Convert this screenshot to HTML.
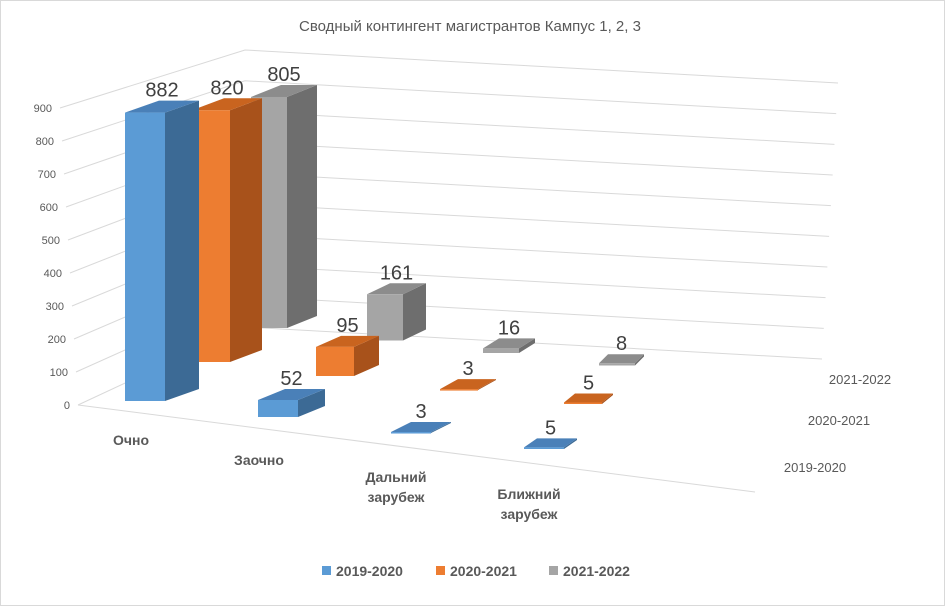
<!DOCTYPE html>
<html><head><meta charset="utf-8"><style>
body{margin:0;background:#fff;}
svg{display:block;font-family:"Liberation Sans",sans-serif;}
</style></head><body>
<svg id="chart" width="945" height="606" viewBox="0 0 945 606">
<rect x="0.5" y="0.5" width="944" height="605" fill="#fff" stroke="#d9d9d9"/>
<text x="470" y="31" text-anchor="middle" font-size="15" fill="#595959">Сводный контингент магистрантов Кампус 1, 2, 3</text>
<g id="grid"></g>
<g id="bars"></g>
<g id="labels"></g>
<g font-size="14" font-weight="bold" fill="#595959">
<rect x="322" y="566" width="9" height="9" fill="#5B9BD5"/>
<text x="336" y="576">2019-2020</text>
<rect x="436" y="566" width="9" height="9" fill="#ED7D31"/>
<text x="450" y="576">2020-2021</text>
<rect x="549" y="566" width="9" height="9" fill="#A5A5A5"/>
<text x="563" y="576">2021-2022</text>
</g>
</svg>
<script>
const categories = [["Очно"], ["Заочно"], ["Дальний","зарубеж"], ["Ближний","зарубеж"]];
const seriesNames = ["2019-2020", "2020-2021", "2021-2022"];
const s2019 = [882, 52, 3, 5];
const s2020 = [820, 95, 3, 5];
const s2021 = [805, 161, 16, 8];
const yTicks = [0, 100, 200, 300, 400, 500, 600, 700, 800, 900];

const series = [s2019, s2020, s2021];
const NS = "http://www.w3.org/2000/svg";
const colors = [
  {f:"#5B9BD5", s:"#3C6A95", t:"#4A80B8"},
  {f:"#ED7D31", s:"#A8521B", t:"#C9641F"},
  {f:"#A5A5A5", s:"#6E6E6E", t:"#8C8C8C"}
];
function mk(tag, attrs, parent){const e=document.createElementNS(NS,tag);for(const k in attrs)e.setAttribute(k,attrs[k]);parent.appendChild(e);return e;}
const grid=document.getElementById('grid'), bars=document.getElementById('bars'), labels=document.getElementById('labels');

// axes: value -> wall line
const maxV = 900;
function wallPts(v){
  const t=v/maxV;
  const sx=78+(60-78)*t, sy=405+(108-405)*t;
  const cx=245, cy=327+(50-327)*t;
  const ex=822+(838-822)*t, ey=359+(83-359)*t;
  return {sx,sy,cx,cy,ex,ey};
}
yTicks.forEach(v=>{
  const p=wallPts(v);
  const l=mk('polyline',{points:`${p.sx},${p.sy} ${p.cx},${p.cy} ${p.ex},${p.ey}`,fill:'none',stroke:'#d9d9d9','stroke-width':1},grid);
  
  
  const t=mk('text',{x:p.sx-8,y:p.sy+4,'text-anchor':'end','font-size':11,fill:'#595959'},grid);
  t.textContent=v;
  
  
});
const floor=mk('line',{x1:78,y1:405,x2:755,y2:492,stroke:'#d9d9d9','stroke-width':1},grid);



// projection
const x0=[125,192,251], xstep=[133,124,116];
const y0=[401,362,328], ystep=[16,14,12.5];
const scale=[0.327,0.307,0.287];
const W=[40,38,36];
function base(c,s){return {x:x0[s]+xstep[s]*c, y:y0[s]+ystep[s]*c};}

for(let s=2;s>=0;s--){
  for(let c=3;c>=0;c--){
    const v=series[s][c];
    const b=base(c,s), w=W[s], h=v*scale[s];
    const dx=34-7*c-2*s, dy=-12+c;
    const top=b.y-h;
    const g=mk('g',{},bars);
    
    
    mk('polygon',{points:`${b.x+w},${b.y} ${b.x+w+dx},${b.y+dy} ${b.x+w+dx},${top+dy} ${b.x+w},${top}`,fill:colors[s].s},g);
    mk('polygon',{points:`${b.x},${top} ${b.x+w},${top} ${b.x+w+dx},${top+dy} ${b.x+dx},${top+dy}`,fill:colors[s].t},g);
    mk('rect',{x:b.x,y:top,width:w,height:Math.max(h,1.5),fill:colors[s].f},g);
    const t=mk('text',{x:b.x+w/2+dx/2,y:top+dy-4,'text-anchor':'middle','font-size':20,fill:'#404040'},labels);
    t.textContent=v;
    
    
  }
}
// category labels
const catPos=[[131,445],[259,465],[396,482],[529,499]];
categories.forEach((lines,i)=>{
  const t=mk('text',{x:catPos[i][0],y:catPos[i][1],'text-anchor':'middle','font-size':14,'font-weight':'bold',fill:'#595959'},labels);
  
  
  lines.forEach((ln,k)=>{const ts=mk('tspan',{x:catPos[i][0],dy:k?20:0},t);ts.textContent=ln;});
});
// series depth labels
const serPos=[[815,472],[839,425],[860,384]];
seriesNames.forEach((n,i)=>{
  const t=mk('text',{x:serPos[i][0],y:serPos[i][1],'text-anchor':'middle','font-size':13,fill:'#595959'},labels);
  t.textContent=n;
  
  
});
</script>
</body></html>
